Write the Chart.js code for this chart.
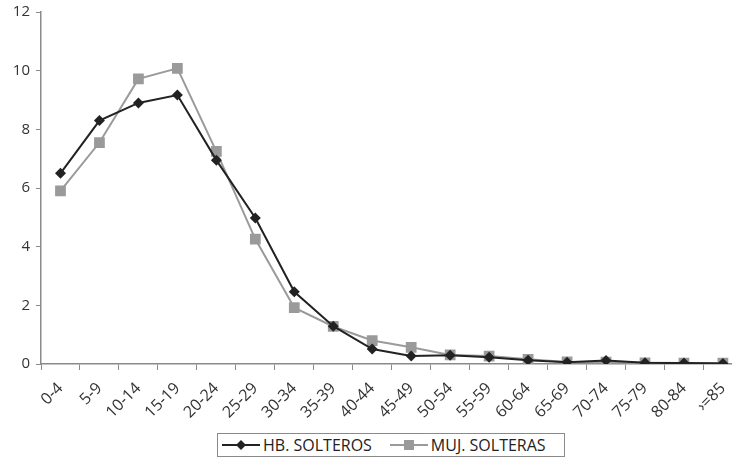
<!DOCTYPE html>
<html>
<head>
<meta charset="utf-8">
<script src="https://cdn.jsdelivr.net/npm/chart.js@4"></script>
<style>
html,body{margin:0;padding:0;background:#fff;overflow:hidden;width:732px;height:459px;}
#wrap{position:relative;width:732px;height:459px;}
#chart{position:absolute;left:0;top:0;}
#legend{position:absolute;left:217px;top:433px;width:348px;height:24px;border:1px solid #8a8a8a;
  font-family:"Open Sans",sans-serif;font-size:16px;color:#222;display:flex;align-items:center;box-sizing:border-box;}
#legend span{display:inline-flex;align-items:center;}
#legend svg{margin:0 3px 0 4px;}
</style>
</head>
<body>
<div id="wrap">
<canvas id="chart" width="750" height="420"></canvas>
<div id="legend"></div>
</div>
<script>
// age groups
const ageGroups = ["0-4","5-9","10-14","15-19","20-24","25-29","30-34","35-39","40-44",
  "45-49","50-54","55-59","60-64","65-69","70-74","75-79","80-84","\u203A=85"];

// % single men / single women per age group
const hbSolteros = [6.5,8.3,8.9,9.17,6.95,4.98,2.46,1.29,0.51,0.27,0.3,0.23,0.13,0.06,0.12,0.04,0.03,0.02];
const mujSolteras = [5.9,7.55,9.72,10.08,7.25,4.26,1.92,1.28,0.8,0.57,0.31,0.27,0.16,0.07,0.06,0.04,0.03,0.03];

const yTicks = [0,2,4,6,8,10,12];

const $ = id => document.getElementById(id);

new Chart($("chart"), {
  type: "line",
  data: {
    labels: ageGroups,
    datasets: [
      {
        label: "HB. SOLTEROS",
        data: hbSolteros,
        borderColor: "#222",
        backgroundColor: "#222",
        borderWidth: 2,
        pointStyle: "rectRot",
        pointRadius: 5.5,
        pointBorderWidth: 0,
        tension: 0
      },
      {
        label: "MUJ. SOLTERAS",
        data: mujSolteras,
        borderColor: "#9a9a9a",
        backgroundColor: "#9a9a9a",
        borderWidth: 2,
        pointStyle: "rect",
        pointRadius: 7.6,
        pointBorderWidth: 0,
        tension: 0
      }
    ]
  },
  options: {
    responsive: false,
    animation: false,
    layout: {padding: {top: 12, left: 0, right: 0, bottom: 0}},
    plugins: {legend: {display: false}, tooltip: {enabled: false}},
    scales: {
      x: {
        offset: true,
        grid: {drawOnChartArea: false, drawTicks: true, tickLength: 6, color: "#8a8a8a", offset: true},
        border: {color: "#8a8a8a", width: 1.5},
        ticks: {font: {family:"Open Sans", size:16}, color: "#333", minRotation: 45, maxRotation: 45, autoSkip: false, padding: 9},
        afterFit: s => { s.height = 56; s.paddingLeft = 0; s.paddingRight = 0; }
      },
      y: {
        min: 0,
        max: 12,
        afterBuildTicks: s => { s.ticks = yTicks.map(v => ({value: v})); },
        grid: {drawOnChartArea: false, drawTicks: true, tickLength: 5, color: "#8a8a8a"},
        border: {color: "#8a8a8a", width: 1.5},
        ticks: {font: {family:"Open Sans", size:15}, color: "#333", padding: 6},
        afterFit: s => { s.width = 41; s.paddingTop = 0; s.paddingBottom = 0; }
      }
    }
  }
});

// legend with line + marker samples
function sample(color, shape){
  const m = shape === "diamond"
    ? `<polygon points="19,1 24,6 19,11 14,6" fill="${color}"/>`
    : `<rect x="14" y="1" width="10" height="10" fill="${color}"/>`;
  return `<svg width="38" height="12"><line x1="0" y1="6" x2="38" y2="6" stroke="${color}" stroke-width="2"/>${m}</svg>`;
}
$("legend").innerHTML =
  `<span>${sample("#222","diamond")}HB. SOLTEROS</span>` +
  `<span style="margin-left:14px">${sample("#9a9a9a","square")}MUJ. SOLTERAS</span>`;
</script>
</body>
</html>
